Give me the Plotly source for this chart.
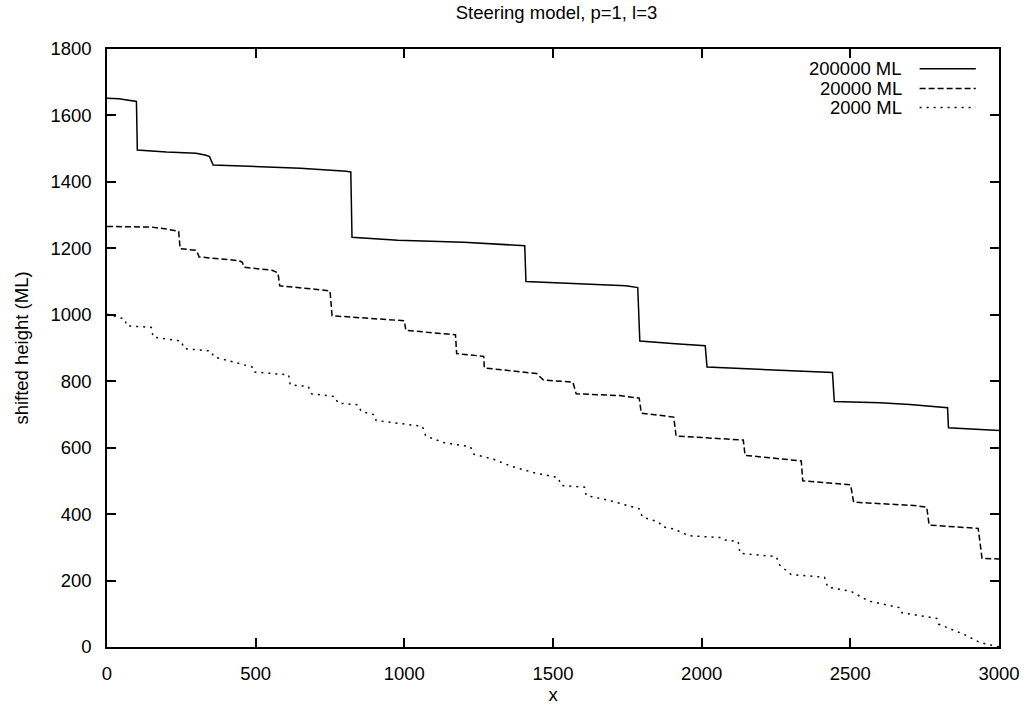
import plotly.graph_objects as go

# ---- data ----
x_200000 = [0, 40, 99, 102, 200, 300, 333, 345, 357, 488, 650, 805, 820, 824, 978, 1200, 1367, 1405,
            1409, 1745, 1785, 1792, 1912, 2012, 2018, 2357, 2440, 2446, 2600, 2700, 2827, 2830, 2947, 3000]
y_200000 = [1652, 1650, 1642, 1496, 1490, 1486, 1480, 1476, 1451, 1446, 1441, 1432, 1430, 1233, 1224, 1218, 1211, 1208,
            1100, 1087, 1082, 921, 913, 907, 843, 831, 826, 739, 735, 730, 720, 660, 655, 652]

x_20000 = [0, 150, 200, 241, 246, 299, 305, 310, 444, 455, 461, 555, 575, 581, 700, 750, 757, 911, 1000,
           1005, 1172, 1176, 1267, 1269, 1445, 1467, 1567, 1578, 1723, 1790, 1797, 1906, 1914, 2140, 2146,
           2335, 2340, 2501, 2511, 2713, 2757, 2765, 2930, 2943, 3000]
y_20000 = [1266, 1264, 1258, 1251, 1199, 1194, 1185, 1174, 1163, 1158, 1143, 1134, 1126, 1087, 1077, 1072, 997, 987, 982,
           953, 940, 883, 875, 840, 823, 804, 797, 762, 757, 749, 704, 692, 635, 623, 577,
           560, 500, 488, 436, 426, 421, 367, 357, 267, 265]

x_2000 = [0, 60, 66, 149, 155, 249, 260, 349, 360, 420, 470, 488, 494, 611, 616, 677, 688, 766, 777, 844, 855,
          900, 905, 978, 1061, 1072, 1134, 1222, 1234, 1300, 1356, 1434, 1517, 1528, 1606, 1612, 1690, 1790,
          1801, 1856, 1868, 1907, 1957, 2068, 2079, 2123, 2129, 2251, 2262, 2301, 2413, 2424, 2501, 2563,
          2668, 2674, 2791, 2797, 2880, 2935, 3000]
y_2000 = [1002, 987, 967, 962, 933, 921, 898, 891, 873, 860, 848, 843, 828, 819, 789, 784, 762, 754, 734, 729, 709,
          699, 682, 673, 664, 635, 615, 603, 580, 565, 545, 525, 510, 486, 481, 456, 441, 416,
          391, 376, 362, 355, 335, 329, 322, 317, 282, 272, 247, 218, 210, 180, 168, 138,
          118, 103, 86, 69, 39, 14, 0]

series_names = ["200000 ML", "20000 ML", "2000 ML"]
series_dash = ["solid", "6px,3px", "2px,5px"]
x_ticks = [0, 500, 1000, 1500, 2000, 2500, 3000]
y_ticks = [0, 200, 400, 600, 800, 1000, 1200, 1400, 1600, 1800]

FONT = "Liberation Sans, Arial, sans-serif"
FS = 18.5

fig = go.Figure()
for xs, ys, name, dash in zip([x_200000, x_20000, x_2000], [y_200000, y_20000, y_2000],
                              series_names, series_dash):
    fig.add_trace(go.Scatter(x=xs, y=ys, mode="lines", name=name,
                             line=dict(color="black", width=1.5, dash=dash),
                             showlegend=False))

# gnuplot-style legend: right-aligned text, sample line to the right
legend_rows = [0.967, 0.934, 0.902]
for name, dash, yr in zip(series_names, series_dash, legend_rows):
    fig.add_annotation(x=0.893, y=yr, xref="paper", yref="paper", text=name, showarrow=False,
                       xanchor="right", yanchor="middle", font=dict(family=FONT, size=FS, color="black"))
    fig.add_shape(type="line", xref="paper", yref="paper", x0=0.911, x1=0.974, y0=yr, y1=yr,
                  line=dict(color="black", width=1.5, dash=dash))

axis_common = dict(showgrid=False, zeroline=False, showline=True, linecolor="black", linewidth=1.5,
                   mirror="allticks", ticks="inside", ticklen=9, tickwidth=1.5, tickcolor="black",
                   tickfont=dict(family=FONT, size=FS, color="black"))

fig.update_layout(
    width=1032, height=714,
    margin=dict(l=107, r=26, t=49, b=61),
    paper_bgcolor="white", plot_bgcolor="white",
    title=dict(text="Steering model, p=1, l=3", x=(107 + 1006) / 2 / 1032, xanchor="center",
               y=1 - 13 / 714, yanchor="middle", font=dict(family=FONT, size=FS, color="black")),
    xaxis=dict(range=[0, 3000], tickvals=x_ticks, ticklabelstandoff=9,
               title=dict(text="x", font=dict(family=FONT, size=FS, color="black"), standoff=5),
               **axis_common),
    yaxis=dict(range=[0, 1800], tickvals=y_ticks, ticklabelstandoff=10,
               title=dict(text="shifted height (ML)", font=dict(family=FONT, size=FS, color="black"), standoff=17),
               **axis_common),
)

fig.write_html("out.html", config={"displayModeBar": False},
               post_script="document.body.style.margin='0';document.body.style.overflow='hidden';")
